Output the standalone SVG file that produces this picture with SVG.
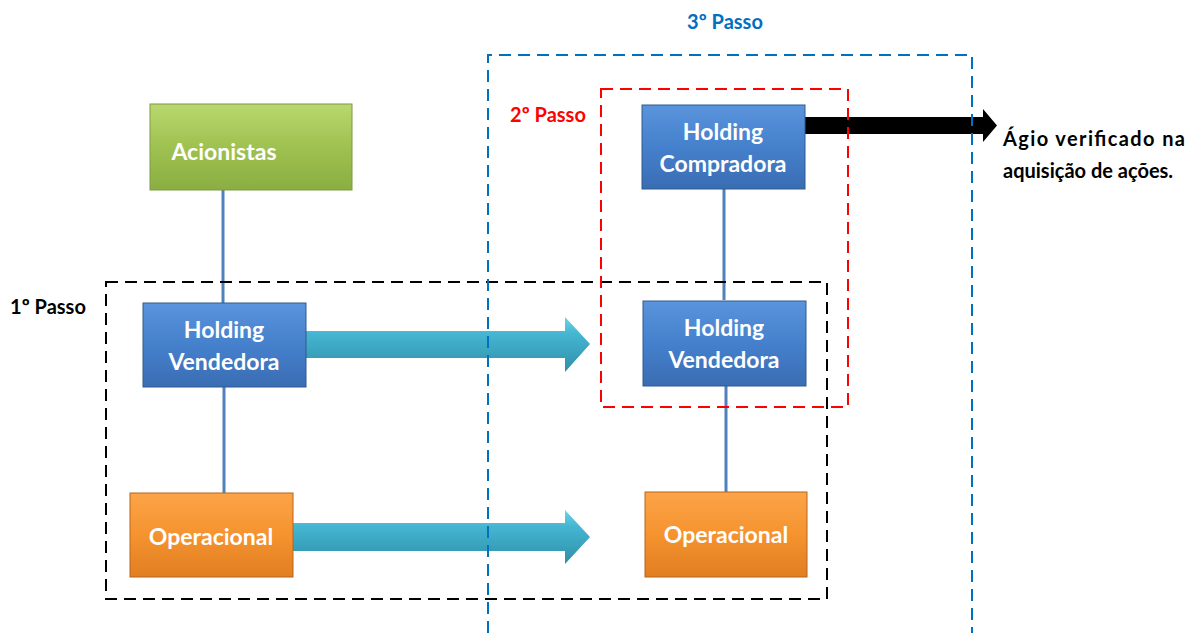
<svg xmlns="http://www.w3.org/2000/svg" width="1195" height="633" viewBox="0 0 1195 633">
<style>
.nt{font-family:Lato,"Open Sans","Liberation Sans",sans-serif;font-weight:bold;font-size:23px;fill:#fff;text-anchor:middle}
.lb{font-family:Lato,"Open Sans","Liberation Sans",sans-serif;font-weight:bold;font-size:20px}
.conn{stroke:#4F81BD;stroke-width:3;fill:none}
</style>
<defs>
<linearGradient id="gG" x1="0" y1="0" x2="0" y2="1"><stop offset="0" stop-color="#B9D870"/><stop offset="0.5" stop-color="#9FC150"/><stop offset="1" stop-color="#8AAE42"/></linearGradient>
<linearGradient id="gB" x1="0" y1="0" x2="0" y2="1"><stop offset="0" stop-color="#5A94DC"/><stop offset="0.5" stop-color="#4580CC"/><stop offset="1" stop-color="#3A6DB3"/></linearGradient>
<linearGradient id="gO" x1="0" y1="0" x2="0" y2="1"><stop offset="0" stop-color="#FCA448"/><stop offset="0.5" stop-color="#F5932F"/><stop offset="1" stop-color="#E07E22"/></linearGradient>
<linearGradient id="gC" x1="0" y1="0" x2="0" y2="1"><stop offset="0" stop-color="#6FD3EA"/><stop offset="0.3" stop-color="#45B6D2"/><stop offset="1" stop-color="#2F8FA8"/></linearGradient>
</defs>
<g id="connectors">
<line class="conn" x1="223" y1="190" x2="223" y2="303"/>
<line class="conn" x1="224" y1="387" x2="224" y2="493"/>
<line class="conn" x1="724" y1="189" x2="724" y2="300"/>
<line class="conn" x1="726" y1="386" x2="726" y2="492"/>
<path d="M306 331 H565 V317 L590 344 L565 372 V358 H306 Z" fill="url(#gC)"/>
<path d="M293 523 H565 V510 L590 537 L565 564 V551 H293 Z" fill="url(#gC)"/>
<path d="M805 117 H983 V109 L997 125.5 L983 142 V134 H805 Z" fill="#000"/>
</g>
<g id="passo1">
<rect x="106" y="282" width="721" height="317" fill="none" stroke="#000" stroke-width="2" stroke-dasharray="12,7"/>
<text class="lb" x="48" y="314" text-anchor="middle" fill="#000">1º Passo</text>
</g>
<g id="passo3">
<path d="M488 633 V55 H972 V633" fill="none" stroke="#0070C0" stroke-width="2" stroke-dasharray="12,7"/>
<text class="lb" x="725" y="29" text-anchor="middle" fill="#0070C0">3º Passo</text>
</g>
<g id="passo2">
<rect x="601" y="89" width="247" height="318" fill="none" stroke="#FF0000" stroke-width="2" stroke-dasharray="12,7"/>
<text class="lb" x="548" y="122" text-anchor="middle" fill="#FF0000">2º Passo</text>
</g>
<g id="acionistas">
<rect x="150" y="104" width="202" height="86" fill="url(#gG)" stroke="#7F9B44" stroke-width="1"/>
<text class="nt" x="224" y="160">Acionistas</text>
</g>
<g id="holding-vendedora-1">
<rect x="143" y="303" width="163" height="84" fill="url(#gB)" stroke="#2F5A90" stroke-width="1"/>
<text class="nt" x="224" y="338">Holding</text>
<text class="nt" x="224" y="370">Vendedora</text>
</g>
<g id="operacional-1">
<rect x="130" y="493" width="163" height="84" fill="url(#gO)" stroke="#B8651C" stroke-width="1"/>
<text class="nt" x="211" y="545">Operacional</text>
</g>
<g id="holding-compradora">
<rect x="642" y="105" width="163" height="84" fill="url(#gB)" stroke="#2F5A90" stroke-width="1"/>
<text class="nt" x="723" y="140">Holding</text>
<text class="nt" x="723" y="172">Compradora</text>
</g>
<g id="holding-vendedora-2">
<rect x="643" y="301" width="163" height="85" fill="url(#gB)" stroke="#2F5A90" stroke-width="1"/>
<text class="nt" x="724" y="336">Holding</text>
<text class="nt" x="724" y="368">Vendedora</text>
</g>
<g id="operacional-2">
<rect x="645" y="492" width="162" height="85" fill="url(#gO)" stroke="#B8651C" stroke-width="1"/>
<text class="nt" x="726" y="543">Operacional</text>
</g>
<g id="agio">
<text class="lb" x="1003" y="146" fill="#000" textLength="182" lengthAdjust="spacing">Ágio verificado na</text>
<text class="lb" x="1003" y="178" fill="#000">aquisição de ações.</text>
</g>
</svg>
